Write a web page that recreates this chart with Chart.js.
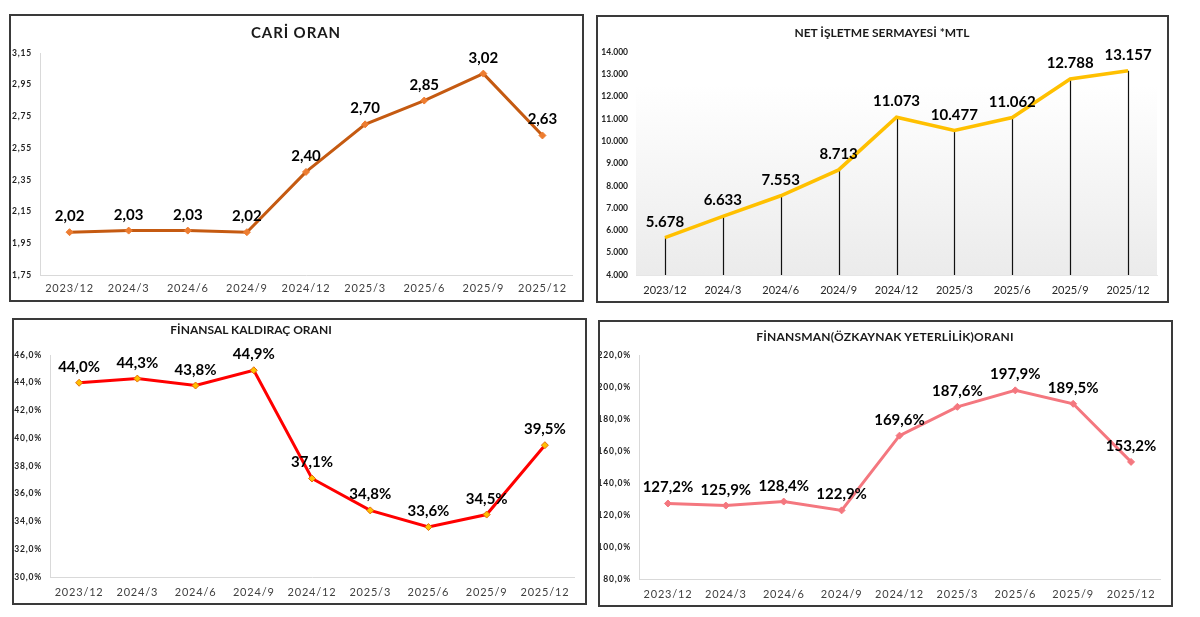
<!DOCTYPE html>
<html><head><meta charset="utf-8">
<script src="https://cdn.jsdelivr.net/npm/chart.js@4.4.1/dist/chart.umd.min.js"></script>
<style>
body{margin:0;width:1200px;height:617px;background:#fff;position:relative;overflow:hidden;font-family:Lato,sans-serif}
.panel{position:absolute;box-sizing:border-box;border:2px solid #3a3a3a;z-index:2;pointer-events:none}
canvas{position:absolute;z-index:1}
.title{position:absolute;font-weight:700;color:#1a1a1a;white-space:nowrap;transform:translate(-50%,-50%);z-index:3;font-family:Lato,sans-serif}
</style></head><body>
<canvas id="c1" width="575" height="288" style="left:9px;top:14px"></canvas>
<div class="panel" style="left:9px;top:14px;width:575px;height:288px"></div>
<div class="title" style="left:296px;top:32px;font-size:15px;letter-spacing:0.9px">CARİ ORAN</div>

<canvas id="c2" width="573" height="288" style="left:596px;top:15px"></canvas>
<div class="panel" style="left:596px;top:15px;width:573px;height:288px"></div>
<div class="title" style="left:882px;top:32px;font-size:12px">NET İŞLETME SERMAYESİ *MTL</div>

<canvas id="c3" width="575" height="287" style="left:12px;top:318px"></canvas>
<div class="panel" style="left:12px;top:318px;width:575px;height:287px"></div>
<div class="title" style="left:251px;top:329px;font-size:12px">FİNANSAL KALDIRAÇ ORANI</div>

<canvas id="c4" width="575" height="287" style="left:598px;top:320px"></canvas>
<div class="panel" style="left:598px;top:320px;width:575px;height:287px"></div>
<div class="title" style="left:885px;top:336px;font-size:12px;letter-spacing:0.2px">FİNANSMAN(ÖZKAYNAK YETERLİLİK)ORANI</div>

<script>
const categories = ['2023/12','2024/3','2024/6','2024/9','2024/12','2025/3','2025/6','2025/9','2025/12'];

const cariOran = [2.02, 2.03, 2.03, 2.02, 2.40, 2.70, 2.85, 3.02, 2.63];
const cariTicks = [1.75, 1.95, 2.15, 2.35, 2.55, 2.75, 2.95, 3.15];

const netSermaye = [5678, 6633, 7553, 8713, 11073, 10477, 11062, 12788, 13157];
const netTicks = [4000, 5000, 6000, 7000, 8000, 9000, 10000, 11000, 12000, 13000, 14000];

const kaldirac = [44.0, 44.3, 43.8, 44.9, 37.1, 34.8, 33.6, 34.5, 39.5];
const kaldiracTicks = [30, 32, 34, 36, 38, 40, 42, 44, 46];

const finansman = [127.2, 125.9, 128.4, 122.9, 169.6, 187.6, 197.9, 189.5, 153.2];
const finansmanTicks = [80, 100, 120, 140, 160, 180, 200, 220];

const fmt2 = v => v.toFixed(2).replace('.', ',');
const fmtThousand = v => String(Math.round(v)).replace(/\B(?=(\d{3})+(?!\d))/g, '.');
const fmtPct = v => v.toFixed(1).replace('.', ',') + '%';

function makeChart(id, o){
  const canvas = document.getElementById(id);
  const deco = {
    id: 'deco',
    beforeDraw(chart){
      const ctx = chart.ctx, a = chart.chartArea;
      if (o.gradient){
        const g = ctx.createLinearGradient(0, a.top, 0, a.bottom);
        g.addColorStop(0, '#ffffff');
        g.addColorStop(0.15, '#ffffff');
        g.addColorStop(1, '#ebebeb');
        ctx.save(); ctx.fillStyle = g;
        ctx.fillRect(a.left, a.top, a.right - a.left, a.bottom - a.top);
        ctx.restore();
      }
      ctx.letterSpacing = o.ls;
    },
    beforeDatasetsDraw(chart){
      const ctx = chart.ctx, a = chart.chartArea;
      ctx.letterSpacing = '0px';
      if (o.dropLines){
        const meta = chart.getDatasetMeta(0);
        ctx.save(); ctx.strokeStyle = '#111'; ctx.lineWidth = 1.2;
        meta.data.forEach(p => {
          const x = Math.round(p.x) + 0.5;
          ctx.beginPath(); ctx.moveTo(x, p.y); ctx.lineTo(x, a.bottom); ctx.stroke();
        });
        ctx.restore();
      }
    },
    afterDatasetsDraw(chart){
      const ctx = chart.ctx;
      const meta = chart.getDatasetMeta(0);
      ctx.save();
      ctx.letterSpacing = '0px';
      ctx.font = 'bold 15px Lato';
      ctx.fillStyle = '#000';
      ctx.textAlign = 'center';
      ctx.textBaseline = 'alphabetic';
      meta.data.forEach((p, i) => ctx.fillText(o.labelFmt(o.values[i]), p.x, p.y - 11));
      ctx.restore();
    },
    afterDraw(chart){ chart.ctx.letterSpacing = '0px'; }
  };
  return new Chart(canvas, {
    type: 'line',
    data: { labels: categories, datasets: [{
      data: o.values, borderColor: o.line, borderWidth: o.lw, tension: 0,
      pointStyle: 'rectRot', pointRadius: o.pr, pointBackgroundColor: o.pfill,
      pointBorderColor: o.pborder, pointBorderWidth: 1, clip: false, fill: false
    }]},
    options: {
      responsive: false, animation: false, devicePixelRatio: 1,
      layout: { padding: { left: 0, right: o.padR, top: o.padT, bottom: 0 } },
      plugins: { legend: { display: false }, tooltip: { enabled: false }, title: { display: false } },
      scales: {
        x: {
          offset: true,
          grid: { display: false, drawTicks: false },
          border: { display: true, color: o.xAxisColor, width: 1 },
          ticks: { padding: o.xPad, color: o.xColor, font: { family: 'Lato', size: 11 }, maxRotation: 0, autoSkip: false },
          afterFit(s){ s.height = o.xH; }
        },
        y: {
          min: o.ticks[0], max: o.ticks[o.ticks.length - 1],
          grid: { display: false, drawTicks: false },
          border: { display: o.yBorder, color: '#d9d9d9', width: 1 },
          ticks: { padding: 8, color: '#222', font: { family: 'Lato', size: 8.5, weight: 'bold' }, callback: v => o.tickFmt(v) },
          afterBuildTicks(s){ s.ticks = o.ticks.map(v => ({ value: v })); },
          afterFit(s){ s.width = o.yW; }
        }
      }
    },
    plugins: [deco]
  });
}

function build(){
  makeChart('c1', { values: cariOran, ticks: cariTicks, tickFmt: fmt2, labelFmt: fmt2,
    line: '#C55A11', lw: 3, pr: 3.5, pfill: '#ED7D31', pborder: '#ED7D31',
    yW: 31, padT: 39, padR: 12, xH: 27, xPad: 7, xColor: '#404040', xAxisColor: '#d9d9d9',
    yBorder: true, ls: '0.8px' });
  makeChart('c2', { values: netSermaye, ticks: netTicks, tickFmt: fmtThousand, labelFmt: fmtThousand,
    line: '#FFC000', lw: 3.5, pr: 0, pfill: '#FFC000', pborder: '#FFC000',
    yW: 40, padT: 37, padR: 12, xH: 28, xPad: 9, xColor: '#262626', xAxisColor: '#e6e6e6',
    yBorder: false, ls: '0px', gradient: true, dropLines: true });
  makeChart('c3', { values: kaldirac, ticks: kaldiracTicks, tickFmt: fmtPct, labelFmt: fmtPct,
    line: '#FF0000', lw: 3, pr: 3.5, pfill: '#FFC000', pborder: '#E46C0A',
    yW: 38, padT: 37, padR: 13, xH: 28, xPad: 9, xColor: '#404040', xAxisColor: '#d9d9d9',
    yBorder: true, ls: '0.8px' });
  makeChart('c4', { values: finansman, ticks: finansmanTicks, tickFmt: fmtPct, labelFmt: fmtPct,
    line: '#F4777F', lw: 3, pr: 3.5, pfill: '#F4777F', pborder: '#F4777F',
    yW: 41, padT: 35, padR: 13, xH: 28, xPad: 9, xColor: '#404040', xAxisColor: '#d9d9d9',
    yBorder: true, ls: '0.8px' });
}

if (document.fonts && document.fonts.load) {
  Promise.all([document.fonts.load('bold 15px Lato'), document.fonts.load('11px Lato')]).then(build, build);
} else { build(); }
</script>
</body></html>
